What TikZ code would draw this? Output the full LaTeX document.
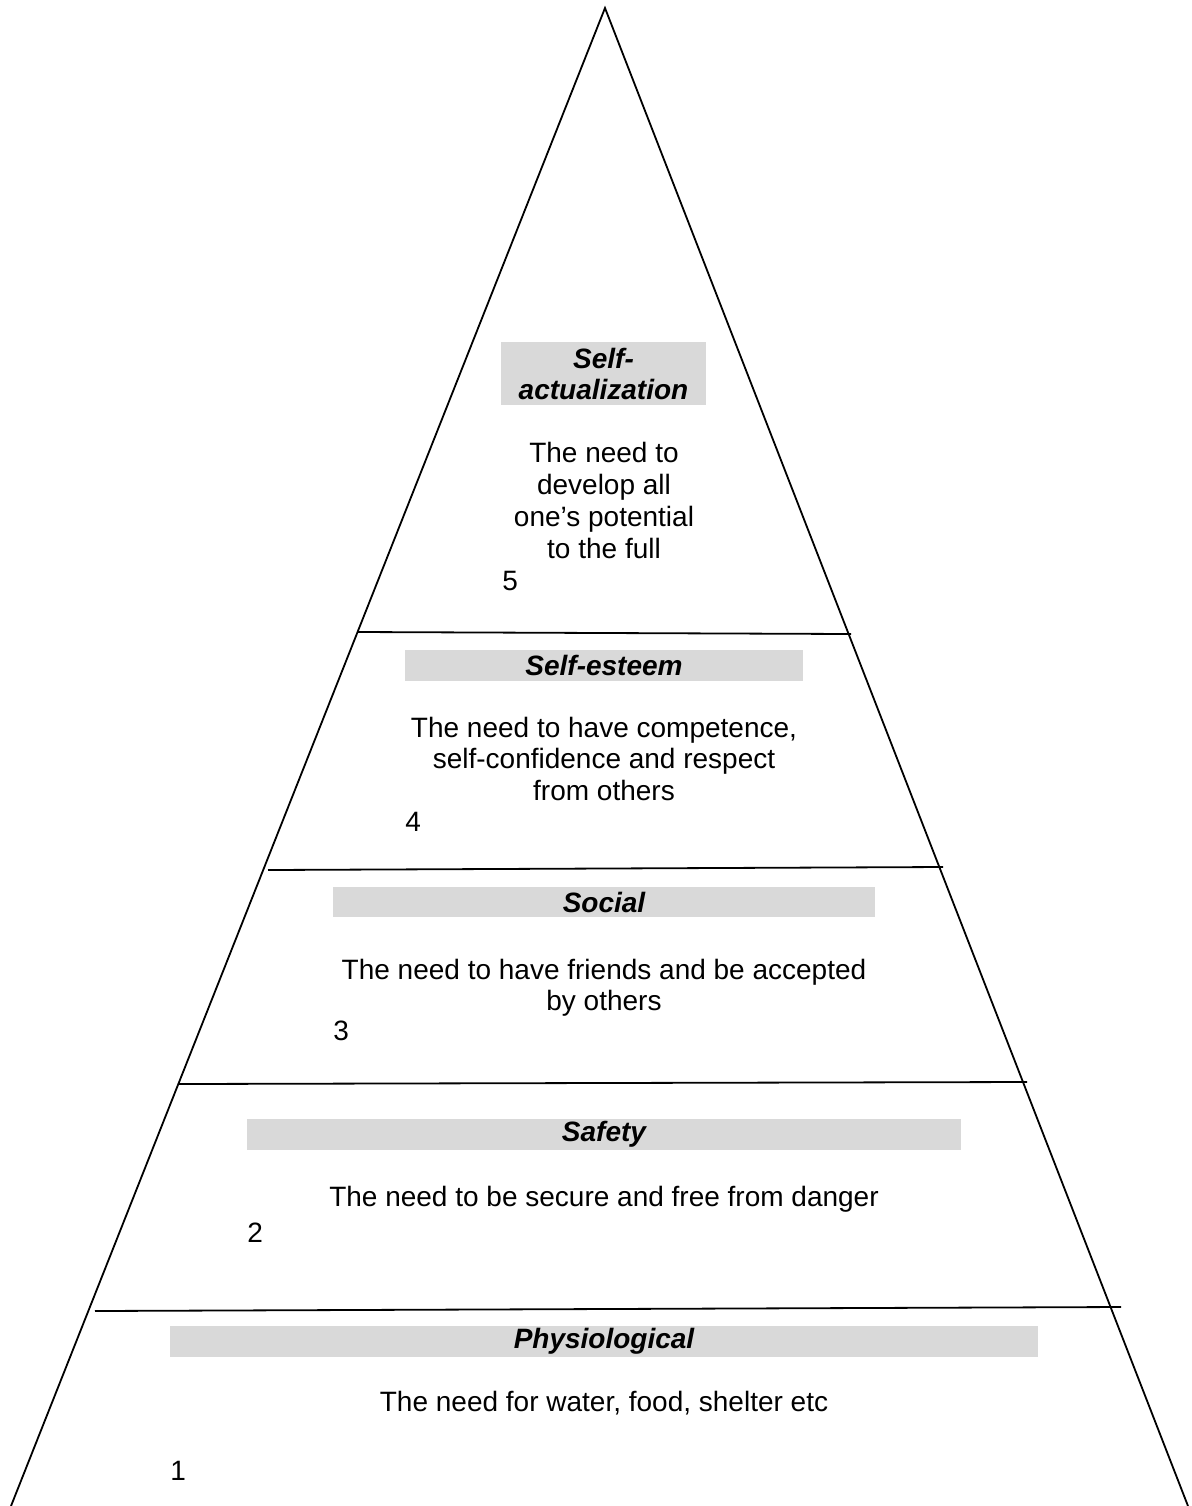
\documentclass[tikz,border=0pt]{standalone}
\usepackage{fontspec}
\setmainfont{Liberation Sans}
\usetikzlibrary{positioning}
\tikzset{title/.style={fill=black!15,inner sep=0pt,align=center,font=\fontsize{14}{15.5}\selectfont\bfseries\itshape}}
\tikzset{need/.style={anchor=north,inner sep=0pt,align=center,font=\fontsize{14}{15.6}\selectfont}}
\tikzset{rank/.style={anchor=base west,inner sep=0pt,font=\fontsize{14}{15}\selectfont}}
\tikzset{edge/.style={line width=0.9pt}}
\newcommand{\pframe}{
    \useasboundingbox (0,0) rectangle (1191,1506);
}

\begin{document}
\begin{tikzpicture}[x=0.5pt,y=-0.5pt]
        \pframe

        % pyramid outline
        \coordinate (apex) at (605,8);
        \coordinate (bl) at (11,1506);
        \coordinate (br) at (1188,1506);
        \draw[edge] (bl) -- (apex) -- (br);

        % level dividers
        \draw[edge] (358,632) -- (851,634);
        \draw[edge] (268,870) -- (943,867);
        \draw[edge] (178,1084) -- (1027,1082);
        \draw[edge] (95,1311) -- (1121,1307);

        \node[title,minimum width=102.5pt,minimum height=31.5pt] (sat) at (603.5,373.5) {Self-\\actualization};
        \node[need,font=\fontsize{14}{16}\selectfont] (satn) at (604,442) {The need to\\develop all\\one’s potential\\to the full};
        \node[rank] (satr) at (502,590) {5};

        \node[title,minimum width=199pt,minimum height=15.5pt] (est) at (604,665.5) {Self-esteem};
        \node[need] (estn) at (604,717) {The need to have competence,\\self-confidence and respect\\from others};
        \node[rank] (estr) at (405,831) {4};

        \node[title,minimum width=271pt,minimum height=15pt] (soc) at (604,902) {Social};
        \node[need] (socn) at (604,959) {The need to have friends and be accepted\\by others};
        \node[rank] (socr) at (333,1040) {3};

        \node[title,minimum width=357pt,minimum height=15.5pt] (saf) at (604,1134.5) {Safety};
        \node[need] (safn) at (604,1186) {The need to be secure and free from danger};
        \node[rank] (safr) at (247,1242) {2};

        \node[title,minimum width=434pt,minimum height=15.5pt] (phy) at (604,1341.5) {Physiological};
        \node[need] (phyn) at (604,1391) {The need for water, food, shelter etc};
        \node[rank] (phyr) at (170,1480) {1};
\end{tikzpicture}
\end{document}
